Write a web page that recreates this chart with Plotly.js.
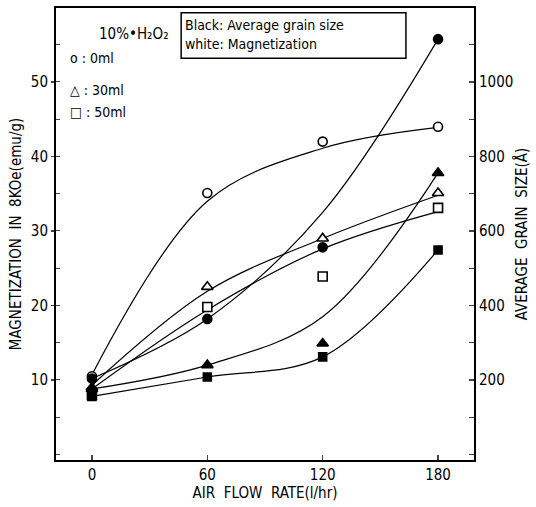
<!DOCTYPE html>
<html><head><meta charset="utf-8">
<script src="https://cdn.plot.ly/plotly-3.0.1.min.js"></script>
<style>html,body{margin:0;padding:0;background:#fff}#chart{width:536px;height:507px}</style>
</head><body><div id="chart"></div>
<script>
// Air flow rate (l/hr)
const airFlow = [0, 60, 120, 180];
const xTicks = [0, 60, 120, 180];
// Magnetization in 8 kOe (emu/g) — white markers
const mag0ml  = [10.5, 35.1, 42.0, 44.0];
const mag30ml = [9.0, 22.5, 29.0, 35.1];
const mag50ml = [8.0, 19.8, 23.9, 33.1];
// Average grain size (Å) — black markers
const grain0ml  = [204, 364, 556, 1115];
const grain30ml = [176, 240, 298, 756];
const grain50ml = [156, 208, 262, 549];
// Hand-drawn fit curves
const magFit0ml   = [10.7, 34.0, 41.1, 43.9];
const magFit30ml  = [9.3, 21.9, 29.0, 34.8];
const magFit50ml  = [8.8, 19.4, 27.6, 32.6];
const grainFit0ml  = [204, 364, 650, 1115];
const grainFit30ml = [176, 240, 370, 756];
const grainFit50ml = [156, 208, 262, 549];
const leftTicks = [10, 20, 30, 40, 50];
const rightTicks = [200, 400, 600, 800, 1000];

const FONT = "'DejaVu Sans Condensed','Liberation Sans',sans-serif";

function curve(y, axis) {
  return {x: airFlow, y: y, yaxis: axis, mode: 'lines', type: 'scatter',
    line: {color: '#000', width: 1.2, shape: 'spline', smoothing: 1}, showlegend: false, hoverinfo: 'skip'};
}
function pts(y, axis, symbol, filled, size) {
  return {x: airFlow, y: y, yaxis: axis, mode: 'markers', type: 'scatter', showlegend: false,
    marker: {symbol: symbol, size: size, color: filled ? '#000' : '#fff', line: {color: '#000', width: 1.6}}};
}

const data = [
  curve(magFit0ml, 'y'), curve(magFit30ml, 'y'), curve(magFit50ml, 'y'),
  curve(grainFit0ml, 'y2'), curve(grainFit30ml, 'y2'), curve(grainFit50ml, 'y2'),
  pts(mag0ml, 'y', 'circle', false, 9),
  pts(mag30ml, 'y', 'triangle-up', false, 10),
  pts(mag50ml, 'y', 'square', false, 9),
  pts(grain0ml, 'y2', 'circle', true, 9),
  pts(grain30ml, 'y2', 'triangle-up', true, 10),
  pts(grain50ml, 'y2', 'square', true, 8)
];

const layout = {
  width: 536, height: 507,
  margin: {l: 56, r: 62, t: 8, b: 47},
  paper_bgcolor: '#fff', plot_bgcolor: '#fff',
  font: {family: FONT, size: 14, color: '#000'},
  showlegend: false,
  xaxis: {range: [-18.7, 198.7], tickvals: xTicks, ticks: 'inside', ticklen: 5, tickwidth: 1.2,
    showline: true, linewidth: 2, linecolor: '#000', mirror: true, showgrid: false, zeroline: false,
    tickfont: {size: 15}, title: {text: 'AIR  FLOW  RATE(l/hr)', font: {size: 15}, standoff: 0}},
  yaxis: {range: [-0.74, 59.93], tickvals: leftTicks, ticks: 'outside', ticklen: 3, tickwidth: 1.2,
    minor: {dtick: 5, tick0: 0, ticks: 'inside', ticklen: 4, tickwidth: 1},
    showline: true, linewidth: 2, linecolor: '#000', showgrid: false, zeroline: false,
    tickfont: {size: 15}, title: {text: 'MAGNETIZATION  IN  8KOe(emu/g)', font: {size: 15}, standoff: 6}},
  yaxis2: {overlaying: 'y', side: 'right', range: [-14.8, 1198.6], tickvals: rightTicks, ticks: 'inside', ticklen: 5, tickwidth: 1.2,
    minor: {dtick: 100, tick0: 0, ticks: 'inside', ticklen: 5, tickwidth: 1},
    showline: true, linewidth: 2, linecolor: '#000', showgrid: false, zeroline: false,
    tickfont: {size: 15}, title: {text: 'AVERAGE  GRAIN  SIZE(Å)', font: {size: 15}, standoff: 4}},
  shapes: [
    {type: 'rect', xref: 'x', yref: 'y', x0: 46.4, x1: 163.3, y0: 53.2, y1: 59.3, line: {color: '#000', width: 1.5}, fillcolor: 'rgba(0,0,0,0)'}
  ],
  annotations: [
    {xref: 'x', yref: 'y', x: 41, y: 56.4, xanchor: 'right', text: '10%•H₂O₂', showarrow: false, font: {size: 15}},
    {xref: 'x', yref: 'y', x: -12.5, y: 53.2, xanchor: 'left', text: 'o : 0ml', showarrow: false, font: {size: 14}},
    {xref: 'x', yref: 'y', x: -12.5, y: 48.9, xanchor: 'left', text: '△ : 30ml', showarrow: false, font: {size: 14}},
    {xref: 'x', yref: 'y', x: -12.5, y: 46.0, xanchor: 'left', text: '□ : 50ml', showarrow: false, font: {size: 14}},
    {xref: 'x', yref: 'y', x: 47.3, y: 57.6, xanchor: 'left', text: 'Black: Average grain size', showarrow: false, font: {size: 14}},
    {xref: 'x', yref: 'y', x: 47.3, y: 55.1, xanchor: 'left', text: 'white: Magnetization', showarrow: false, font: {size: 14}}
  ]
};

Plotly.newPlot('chart', data, layout, {staticPlot: true, displayModeBar: false});
</script>
</body></html>
